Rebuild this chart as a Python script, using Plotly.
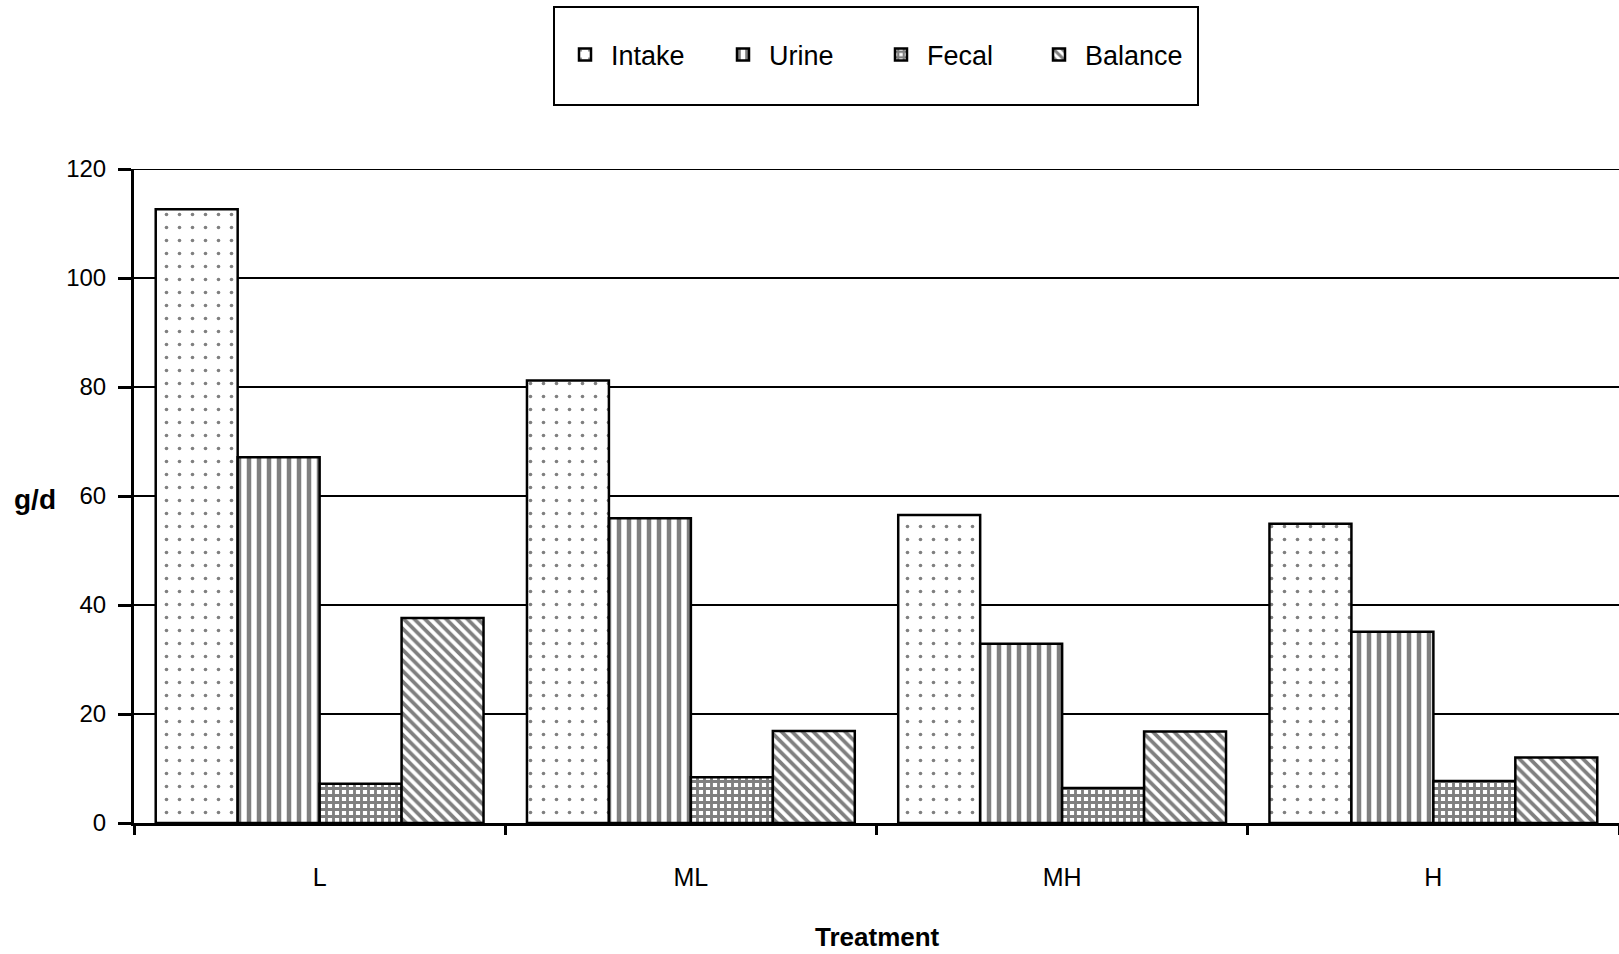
import plotly.graph_objects as go

treatments = ["L", "ML", "MH", "H"]
series_names = ["Intake", "Urine", "Fecal", "Balance"]
intake = [112.6, 81.2, 56.5, 54.9]
urine = [67.1, 55.9, 32.9, 35.1]
fecal = [7.2, 8.4, 6.4, 7.7]
balance = [37.6, 16.9, 16.8, 12.0]
y_ticks = [0, 20, 40, 60, 80, 100, 120]

W, H = 1619, 954
ML_, MR, MT, MB = 134, 0, 169, 131
plot_w = W - ML_ - MR
plot_h = H - MT - MB

def px_x(x):
    return (x - ML_) / plot_w

def px_y(y):
    return (H - MB - y) / plot_h

FONT = "Liberation Sans, Arial, Helvetica, sans-serif"

patterns = [
    dict(shape=".", size=13, solidity=0.06, fgcolor="black", bgcolor="white"),
    dict(shape="|", size=10, solidity=0.45, fgcolor="black", bgcolor="white"),
    dict(shape="+", size=7, solidity=0.65, fgcolor="black", bgcolor="white"),
    dict(shape="\\", size=7.5, solidity=0.5, fgcolor="black", bgcolor="white"),
]

fig = go.Figure()
for name, vals, pat in zip(series_names, [intake, urine, fecal, balance], patterns):
    fig.add_trace(go.Bar(
        name=name, x=treatments, y=vals,
        marker=dict(color="white", pattern=pat, line=dict(color="black", width=2.5)),
    ))

# top gridline at the axis maximum
fig.add_shape(type="line", xref="paper", yref="y", x0=0, x1=1,
              y0=y_ticks[-1], y1=y_ticks[-1], line=dict(color="black", width=2),
              layer="below")

# legend frame
fig.add_shape(type="rect", xref="paper", yref="paper",
              x0=px_x(554), x1=px_x(1198), y0=px_y(105), y1=px_y(7),
              line=dict(color="black", width=2), fillcolor="rgba(0,0,0,0)")

fig.add_annotation(text="<b>g/d</b>", xref="paper", yref="paper",
                   x=px_x(35), y=px_y(499), showarrow=False,
                   xanchor="center", yanchor="middle",
                   font=dict(family=FONT, size=28, color="black"))
fig.add_annotation(text="<b>Treatment</b>", xref="paper", yref="paper",
                   x=px_x(877), y=px_y(937), showarrow=False,
                   xanchor="center", yanchor="middle",
                   font=dict(family=FONT, size=26, color="black"))

fig.update_layout(
    width=W, height=H,
    margin=dict(l=ML_, r=MR, t=MT, b=MB),
    paper_bgcolor="white", plot_bgcolor="white",
    barmode="group", bargap=0.117, bargroupgap=0,
    font=dict(family=FONT, size=24, color="black"),
    showlegend=True,
    legend=dict(orientation="h", x=px_x(875), xanchor="center",
                y=px_y(55), yanchor="middle",
                font=dict(family=FONT, size=27, color="black"),
                bgcolor="rgba(0,0,0,0)", borderwidth=0,
                itemwidth=42,
                entrywidth=101, entrywidthmode="pixels",
                traceorder="normal"),
    xaxis=dict(showline=True, linecolor="black", linewidth=3,
               ticks="outside", tickson="boundaries", ticklen=9, tickwidth=3,
               tickcolor="black", showgrid=False, ticklabelstandoff=30,
               tickfont=dict(family=FONT, size=25)),
    yaxis=dict(range=[0, 120], tickvals=y_ticks, showline=True,
               linecolor="black", linewidth=3, ticks="outside", ticklen=13,
               tickwidth=3, tickcolor="black", showgrid=True,
               gridcolor="black", gridwidth=2, zeroline=False,
               ticklabelstandoff=7, tickfont=dict(family=FONT, size=24)),
)

fig.write_html("out.html")
